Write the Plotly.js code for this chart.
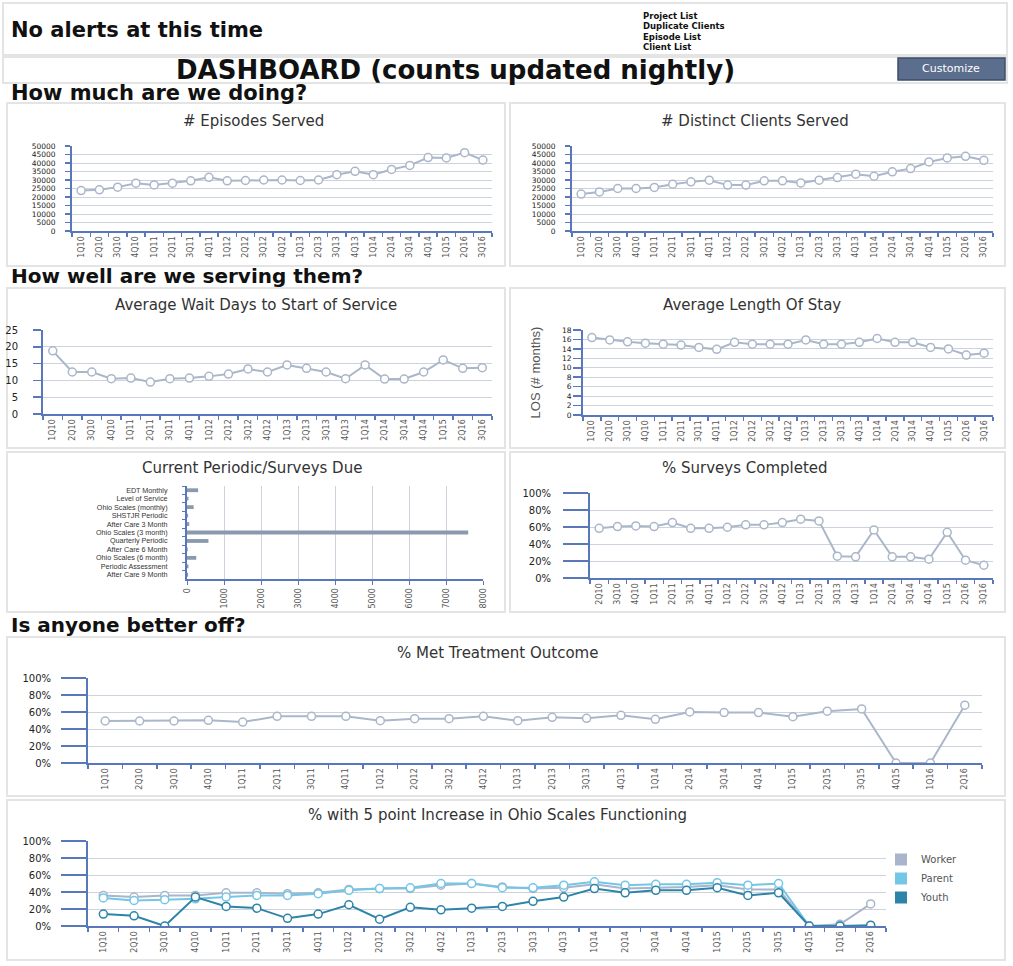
<!DOCTYPE html>
<html>
<head>
<meta charset="utf-8">
<script src="https://cdn.plot.ly/plotly-3.0.1.min.js"></script>
<style>
  html,body{margin:0;padding:0;background:#fff;}
  #chart{width:1013px;height:966px;}
</style>
</head>
<body>
<div id="chart"></div>
<script>
// ---------- DATA ----------
const quartersA = ['1Q10','2Q10','3Q10','4Q10','1Q11','2Q11','3Q11','4Q11','1Q12','2Q12','3Q12','4Q12','1Q13','2Q13','3Q13','4Q13','1Q14','2Q14','3Q14','4Q14','1Q15','2Q16','3Q16'];
const episodesServed = [23800,24200,25800,28100,27100,28100,29500,31600,29500,29700,30000,30000,29700,30000,33100,35100,33100,36200,38600,43200,43000,46100,41700];
const distinctClients = [21700,23000,25000,25000,25600,27500,28900,29900,27000,27000,29500,29500,28300,29900,31400,33400,32200,34800,36700,40600,43000,43900,41600];
const waitDays = [18.8,12.5,12.5,10.5,10.7,9.5,10.5,10.7,11.2,11.9,13.4,12.5,14.6,13.6,12.5,10.5,14.6,10.4,10.4,12.5,16.1,13.6,13.8];
const lengthOfStay = [16.4,15.9,15.5,15.2,15.0,14.8,14.3,13.9,15.4,15.0,15.0,15.0,15.9,15.0,15.0,15.4,16.2,15.4,15.4,14.3,14.0,12.7,13.1];

const surveyTypes = ['EDT Monthly','Level of Service','Ohio Scales (monthly)','SHSTJR Periodic','After Care 3 Month','Ohio Scales (3 month)','Quarterly Periodic','After Care 6 Month','Ohio Scales (6 month)','Periodic Assessment','After Care 9 Month'];
const surveysDue = [300,40,180,30,60,7600,580,20,250,40,30];

const quartersSurveys = ['2Q10','3Q10','4Q10','1Q11','2Q11','3Q11','4Q11','1Q12','2Q12','3Q12','4Q12','1Q13','2Q13','3Q13','4Q13','1Q14','2Q14','3Q14','4Q14','1Q15','2Q16','3Q16'];
const pctSurveysCompleted = [58.5,60.5,61.3,60.5,65.2,58.5,58.5,59.7,62.5,62.5,65.2,69.2,67.2,25.7,24.9,56.5,24.9,24.9,22.1,53.8,20.9,15.0];

const quartersB = ['1Q10','2Q10','3Q10','4Q10','1Q11','2Q11','3Q11','4Q11','1Q12','2Q12','3Q12','4Q12','1Q13','2Q13','3Q13','4Q13','1Q14','2Q14','3Q14','4Q14','1Q15','2Q15','3Q15','4Q15','1Q16','2Q16'];
const pctMetOutcome = [49.4,49.4,49.4,50.2,48.2,54.9,54.9,54.9,49.8,52.2,52.2,54.9,49.8,53.8,52.6,56.1,51.4,60.1,59.3,59.3,54.5,60.9,63.6,0,0,68.0];

const ohioWorker = [36,34,36,36,39,39,38,39,43,44,44,48,50,46,44,45,49,44,45,46,48,43,43,0,2,26];
const ohioParent = [33,30,31,32,34,36,36,38,42,44,45,50,50,45,45,48,52,48,49,49,51,48,50,0,0,0];
const ohioYouth  = [14,12,0,34,23,21,9,14,25,8,22,19,21,23,29,34,44,39,42,42,45,36,39,0,0,1];
const ohioSeries = ['Worker','Parent','Youth'];

const alertText = 'No alerts at this time';
const linkTexts = ['Project List','Duplicate Clients','Episode List','Client List'];

// ---------- STYLE / LAYOUT HELPERS ----------
const W = 1013, H = 966;
const AX = '#5878bb', GRID = '#cdd3dd', SER = '#aab6ca';
const FONT = 'Liberation Sans, Arial, sans-serif';
const HFONT = 'DejaVu Sans, Verdana, sans-serif';
const px = x => x / W;
const py = y => 1 - y / H;
const dx = (a, b) => [px(a), px(b)];
const dy = (top, bottom) => [py(bottom), py(top)];

function catAxis(domain, anchor, cats) {
  return {domain, anchor, type:'category', categoryorder:'array', categoryarray:cats,
    range:[-0.5, cats.length - 0.5], tickmode:'linear', tick0:0, dtick:1,
    tickangle:-90, tickfont:{size:8, color:'#555', family:HFONT},
    showline:true, linecolor:AX, linewidth:2, ticks:'outside', ticklen:4, tickcolor:AX, tickwidth:1.5,
    tickson:'boundaries', showgrid:false, zeroline:false, fixedrange:true, automargin:false};
}
function valAxis(domain, anchor, range, dtick, o) {
  o = o || {};
  return {domain, anchor, range, dtick, ticksuffix:o.suffix || '', tickformat:'d',
    tickfont:{size:o.size || 10, color:'#222', family:HFONT},
    showline:true, linecolor:AX, linewidth:2, ticks:'outside', ticklen:o.len || 5, tickcolor:AX, tickwidth:1.5,
    ticklabelstandoff:o.stand || 0,
    showgrid:true, gridcolor:GRID, gridwidth:1, zeroline:false, fixedrange:true, automargin:false};
}
function lineTrace(x, y, n, color) {
  return {type:'scatter', mode:'lines+markers', x, y, xaxis:'x'+n, yaxis:'y'+n,
    line:{color:color || SER, width:2},
    marker:{symbol:'circle', size:8, color:'#fff', line:{color:color || SER, width:1.5}},
    showlegend:false, hoverinfo:'x+y'};
}

const workerC = '#a9b5cb', parentC = '#74c6e6', youthC = '#2c84a8';

const traces = [
  lineTrace(quartersA, episodesServed, 1),
  lineTrace(quartersA, distinctClients, 2),
  lineTrace(quartersA, waitDays, 3),
  lineTrace(quartersA, lengthOfStay, 4),
  {type:'bar', orientation:'h', x:surveysDue, y:surveyTypes, xaxis:'x5', yaxis:'y5',
   marker:{color:'#8b99ae'}, width:0.45, showlegend:false},
  lineTrace(quartersSurveys, pctSurveysCompleted, 6),
  lineTrace(quartersB, pctMetOutcome, 7),
  lineTrace(quartersB, ohioWorker, 8, workerC),
  lineTrace(quartersB, ohioParent, 8, parentC),
  lineTrace(quartersB, ohioYouth, 8, youthC),
];
// legend swatches (square keys like the original)
[[ohioSeries[0], workerC],[ohioSeries[1], parentC],[ohioSeries[2], youthC]].forEach(([nm, c]) => {
  traces.push({type:'bar', x:[null], y:[null], xaxis:'x8', yaxis:'y8', name:nm, marker:{color:c}, showlegend:true, hoverinfo:'skip'});
});

const layout = {
  width:W, height:H, margin:{l:0, r:0, t:0, b:0},
  paper_bgcolor:'#fff', plot_bgcolor:'#fff', showlegend:true, hovermode:false,
  font:{family:FONT, color:'#333'},
  legend:{x:px(881), y:py(845), xanchor:'left', yanchor:'top', font:{size:10, color:'#555', family:HFONT},
          bgcolor:'rgba(0,0,0,0)', itemwidth:30, tracegroupgap:0},
  xaxis:  catAxis(dx(72,492), 'y', quartersA),
  yaxis:  valAxis(dy(146,231), 'x', [0,50000], 5000, {size:7.5, stand:8}),
  xaxis2: catAxis(dx(572,993), 'y2', quartersA),
  yaxis2: valAxis(dy(146,231), 'x2', [0,50000], 5000, {size:7.5, stand:8}),
  xaxis3: catAxis(dx(43,492), 'y3', quartersA),
  yaxis3: valAxis(dy(330,414), 'x3', [0,25], 5, {len:8, stand:13}),
  xaxis4: catAxis(dx(583,993), 'y4', quartersA),
  yaxis4: Object.assign(valAxis(dy(330,415), 'x4', [0,18], 2, {size:7.5, len:8, stand:0}),
          {title:{text:'LOS (# months)', font:{size:13, color:'#555', family:FONT}, standoff:18}}),
  xaxis5: {domain:dx(187,483), anchor:'y5', range:[0,8000], dtick:1000, tickangle:-90, tickformat:'d',
           tickfont:{size:8, color:'#555', family:HFONT}, showline:true, linecolor:AX, linewidth:2,
           ticks:'outside', ticklen:4, tickcolor:AX, showgrid:true, gridcolor:GRID, zeroline:false, fixedrange:true, automargin:false},
  yaxis5: {domain:dy(486,579), anchor:'x5', type:'category', categoryorder:'array', categoryarray:surveyTypes,
           range:[surveyTypes.length - 0.5, -0.5], tickmode:'linear', tick0:0, dtick:1,
           tickfont:{size:7.2, color:'#333', family:FONT}, showline:true, linecolor:AX, linewidth:2,
           ticks:'outside', ticklen:3, tickcolor:AX, tickson:'boundaries', ticklabelstandoff:16,
           showgrid:false, zeroline:false, fixedrange:true, automargin:false},
  xaxis6: catAxis(dx(590,993), 'y6', quartersSurveys),
  yaxis6: valAxis(dy(493,578), 'x6', [0,100], 20, {suffix:'%', size:10, len:25, stand:10}),
  xaxis7: catAxis(dx(88,982), 'y7', quartersB),
  yaxis7: valAxis(dy(678,763), 'x7', [0,100], 20, {suffix:'%', size:10, len:25, stand:8}),
  xaxis8: catAxis(dx(88,886), 'y8', quartersB),
  yaxis8: valAxis(dy(841,926), 'x8', [0,100], 20, {suffix:'%', size:10, len:25, stand:8}),
  shapes:[], annotations:[]
};

// panels / page frame
const boxes = [[3,3,1007,55],[3,57,1007,83],[7,103,505,266],[510,103,1005,266],
  [7,288,505,448],[510,288,1005,448],[7,452,505,612],[510,452,1005,612],[7,637,1005,796],[7,800,1005,960]];
boxes.forEach(b => layout.shapes.push({type:'rect', xref:'paper', yref:'paper',
  x0:px(b[0]), x1:px(b[2]), y0:py(b[3]), y1:py(b[1]), line:{color:'#e4e4e4', width:2}, fillcolor:'rgba(0,0,0,0)', layer:'below'}));
// customize button
layout.shapes.push({type:'rect', xref:'paper', yref:'paper', x0:px(898), x1:px(1005), y0:py(80), y1:py(58),
  line:{color:'#3d4e68', width:1.5}, fillcolor:'#5b6e8d'});

function ann(text, x, y, size, opts) {
  layout.annotations.push(Object.assign({text, x:px(x), y:py(y), xref:'paper', yref:'paper',
    showarrow:false, xanchor:'center', yanchor:'middle', font:{size, color:'#222', family:FONT}}, opts || {}));
}
const HF = s => ({size:s, color:'#111', family:HFONT});
ann('<b>'+alertText+'</b>', 9, 30, 21, {xanchor:'left', font:HF(21)});
linkTexts.forEach((t, i) => ann('<b>'+t+'</b>', 641, 16 + i*10.3, 8.5, {xanchor:'left', font:HF(8.5)}));
ann('<b>DASHBOARD (counts updated nightly)</b>', 455, 70, 26, {font:HF(26)});
ann('Customize', 951, 69, 11, {font:{size:11, color:'#fff', family:HFONT}});
ann('<b>How much are we doing?</b>', 9, 93, 21, {xanchor:'left', font:HF(21)});
ann('<b>How well are we serving them?</b>', 9, 276, 20, {xanchor:'left', font:HF(20)});
ann('<b>Is anyone better off?</b>', 9, 625, 20, {xanchor:'left', font:HF(20)});

const TF = {size:15, color:'#333', family:HFONT};
ann('# Episodes Served', 253, 121, 15, {font:TF});
ann('# Distinct Clients Served', 755, 121, 15, {font:TF});
ann('Average Wait Days to Start of Service', 256, 305, 15, {font:TF});
ann('Average Length Of Stay', 752, 305, 15, {font:TF});
ann('Current Periodic/Surveys Due', 252, 468, 15, {font:TF});
ann('% Surveys Completed', 745, 468, 15, {font:TF});
ann('% Met Treatment Outcome', 497, 653, 15, {font:TF});
ann('% with 5 point Increase in Ohio Scales Functioning', 497, 815, 15, {font:TF});

Plotly.newPlot('chart', traces, layout, {displayModeBar:false, staticPlot:true});
</script>
</body>
</html>
